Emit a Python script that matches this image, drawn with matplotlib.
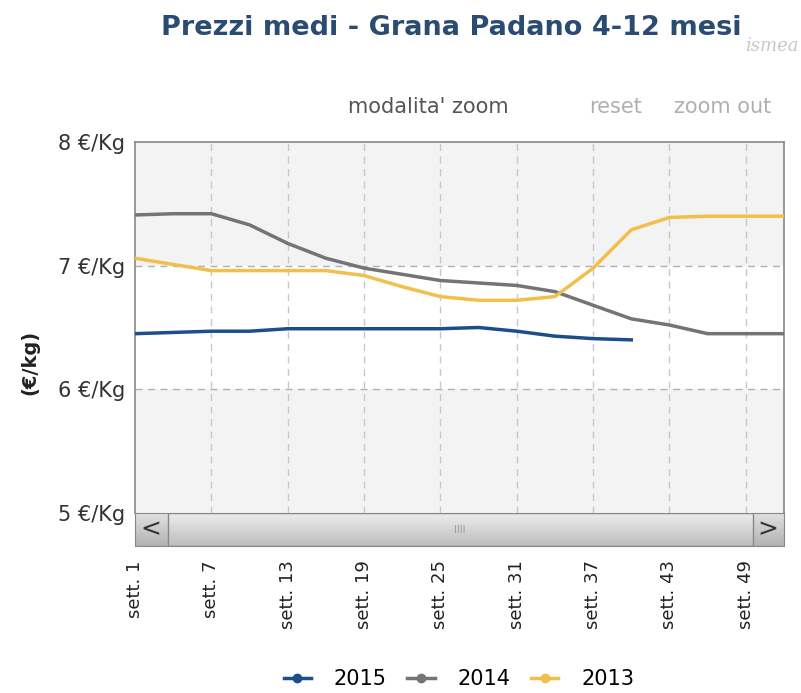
import numpy as np
import matplotlib.pyplot as plt
from matplotlib.patches import Rectangle
from matplotlib.lines import Line2D

settimane = [1, 4, 7, 10, 13, 16, 19, 22, 25, 28, 31, 34, 37, 40, 43, 46, 49, 52]
prezzi_2014 = [7.41, 7.42, 7.42, 7.33, 7.18, 7.06, 6.98, 6.93, 6.88, 6.86, 6.84, 6.79,
               6.68, 6.57, 6.52, 6.45, 6.45, 6.45]
prezzi_2013 = [7.06, 7.01, 6.96, 6.96, 6.96, 6.96, 6.92, 6.83, 6.75, 6.72, 6.72, 6.75,
               6.98, 7.29, 7.39, 7.40, 7.40, 7.40]
settimane_2015 = [1, 4, 7, 10, 13, 16, 19, 22, 25, 28, 31, 34, 37, 40]
prezzi_2015 = [6.45, 6.46, 6.47, 6.47, 6.49, 6.49, 6.49, 6.49, 6.49, 6.50, 6.47, 6.43,
               6.41, 6.40]

tick_sett = [1, 7, 13, 19, 25, 31, 37, 43, 49]
tick_lab = ["sett. %d" % s for s in tick_sett]
y_ticks = [5, 6, 7, 8]
y_lab = ["%d €/Kg" % v for v in y_ticks]

c15 = "#1c4f8a"
c14 = "#747474"
c13 = "#f2bf4c"

W, H = 801, 693
fig = plt.figure(figsize=(W / 100, H / 100), dpi=100)
fig.patch.set_facecolor("white")

ax = fig.add_axes([135 / W, 1 - 513 / H, 649 / W, 371 / H])
ax.set_xlim(1, 52)
ax.set_ylim(5, 8)
ax.set_facecolor("white")
# bande alternate
ax.axhspan(5, 6, color="#f3f3f3", lw=0, zorder=0)
ax.axhspan(7, 8, color="#f3f3f3", lw=0, zorder=0)

for s in tick_sett[1:]:
    ax.axvline(s, color="#c8c8c8", lw=1, ls=(0, (5, 4)), zorder=1)
for v in [6, 7]:
    ax.axhline(v, color="#b0b0b0", lw=1, ls=(0, (5, 4)), zorder=1)

ax.plot(settimane_2015, prezzi_2015, color=c15, lw=2.5, zorder=3)
ax.plot(settimane, prezzi_2014, color=c14, lw=2.5, zorder=3)
ax.plot(settimane, prezzi_2013, color=c13, lw=2.5, zorder=3)

for sp in ax.spines.values():
    sp.set_color("#888888")
    sp.set_linewidth(1.2)
ax.spines["bottom"].set_visible(False)

ax.set_yticks(y_ticks)
ax.set_yticklabels(y_lab, fontsize=15, color="#333333")
ax.tick_params(axis="y", length=0, pad=7)
ax.set_xticks(tick_sett)
ax.set_xticklabels(tick_lab, rotation=90, fontsize=13, color="#222222")
ax.tick_params(axis="x", length=0, pad=34)

# barra di scorrimento
sb = fig.add_axes([135 / W, 1 - 546 / H, 649 / W, 33 / H])
sb.set_xlim(0, 649)
sb.set_ylim(0, 33)
t = np.linspace(0, 1, 60)
bar = np.dstack([np.interp(t, [0, 1], [0.74, 0.93])] * 3).reshape(-1, 1, 3)
btn = np.dstack([np.interp(t, [0, 1], [0.70, 0.88])] * 3).reshape(-1, 1, 3)
sb.imshow(btn, extent=(0, 649, 0, 33), aspect="auto", origin="lower")
sb.imshow(bar, extent=(33, 618, 0, 33), aspect="auto", origin="lower")
sb.add_patch(Rectangle((33, 0), 585, 33, fill=False, ec="#888888", lw=1))
sb.text(16, 17, "<", ha="center", va="center", fontsize=18, color="#333333")
sb.text(633, 17, ">", ha="center", va="center", fontsize=18, color="#333333")
sb.text(325, 16, "IIII", ha="center", va="center", fontsize=7, color="#999999")
sb.set_xticks([])
sb.set_yticks([])
for sp in sb.spines.values():
    sp.set_color("#888888")

fig.text(451 / W, 1 - 35 / H, "Prezzi medi - Grana Padano 4-12 mesi", ha="center",
         va="baseline", fontsize=19.5, fontweight="bold", color="#2b4c72")
fig.text(772 / W, 1 - 46 / H, "ismea", ha="center", va="center", fontsize=13,
         family="DejaVu Serif", style="italic", color="#c8c8c8")
fig.text(428 / W, 1 - 107 / H, "modalita' zoom", ha="center", va="center",
         fontsize=15, color="#555555")
fig.text(616 / W, 1 - 107 / H, "reset", ha="center", va="center", fontsize=15,
         color="#b0b0b0")
fig.text(723 / W, 1 - 107 / H, "zoom out", ha="center", va="center", fontsize=15,
         color="#b0b0b0")
fig.text(30 / W, 1 - 362 / H, "(€/kg)", ha="center", va="center", rotation=90,
         fontsize=14, fontweight="bold", color="#222222")

handles = [Line2D([], [], color=c, lw=2.5, marker="o", markersize=6)
           for c in (c15, c14, c13)]
fig.legend(handles, ["2015", "2014", "2013"], loc="center",
           bbox_to_anchor=(459 / W, 1 - 679 / H), ncol=3, frameon=False,
           fontsize=15, handlelength=1.3, columnspacing=1.0, handletextpad=1.1)

fig.savefig("out.png", dpi=100)
